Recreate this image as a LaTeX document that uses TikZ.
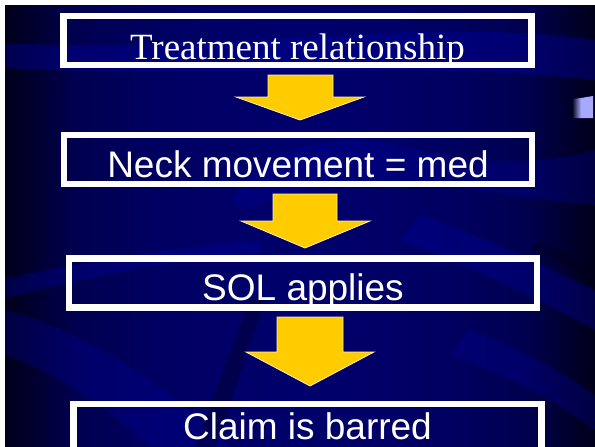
\documentclass[tikz,border=0pt]{standalone}
\usepackage{fontspec}
\setmainfont{Liberation Serif}
\newfontfamily\arialf{Liberation Sans}
\definecolor{bgdark}{HTML}{00001A}
\definecolor{bgmid}{HTML}{00006C}
\definecolor{bgq}{HTML}{000050}
\definecolor{bgr}{HTML}{000062}
\definecolor{bandc}{HTML}{0000A0}
\definecolor{arrowy}{HTML}{FFCC00}
\definecolor{lav}{HTML}{A8A8FF}
\pgfdeclarehorizontalshading{bgshade}{100bp}{color(0bp)=(bgdark); color(25bp)=(bgdark);
  color(31bp)=(bgq); color(38bp)=(bgr); color(50bp)=(bgmid); color(62bp)=(bgr);
  color(69bp)=(bgq); color(75bp)=(bgdark); color(100bp)=(bgdark)}
\tikzset{
  box/.style={draw=white, line width=6.5pt, minimum width=468pt, minimum height=49pt,
    inner sep=0pt},
  boxlbl/.style={anchor=base, inner sep=0pt, text=white, font=\fontsize{37}{40}\selectfont},
  band/.style={fill=bandc, opacity=0.4},
  darkband/.style={fill=bgdark, opacity=0.35},
  blockarrow/.style={fill=arrowy, draw=white!70!arrowy, line width=0.8pt, line join=miter}
}
\begin{document}
\begin{tikzpicture}[x=1pt,y=-1pt]
\useasboundingbox (0,0) rectangle (595,447);
\fill[white] (0,0) rectangle (595,447);
\shade[shading=bgshade] (5,5) rectangle (595,447);
\begin{scope}
\clip (5,5) rectangle (595,447);
% top wave
\fill[band] (5,43) .. controls (200,55) and (420,15) .. (595,40)
  -- (595,80) .. controls (420,60) and (200,78) .. (5,68) -- cycle;
% middle swoosh
\fill[band, opacity=0.3] (230,200) .. controls (260,150) and (330,125) .. (420,150)
  .. controls (500,170) and (560,160) .. (595,150) -- (595,205)
  .. controls (520,200) and (420,175) .. (330,185) .. controls (290,190) and (260,200) .. (250,210) -- cycle;
% left rising band near box 3
\fill[band, opacity=0.35] (5,278) .. controls (60,268) and (150,250) .. (260,240)
  -- (260,252) .. controls (150,262) and (60,285) .. (5,298) -- cycle;
% lower left broad diagonal
\fill[band, opacity=0.3] (5,310) .. controls (80,330) and (160,380) .. (230,447)
  -- (150,447) .. controls (100,400) and (50,370) .. (5,355) -- cycle;
\fill[darkband] (250,300) -- (265,300) -- (215,447) -- (195,447) -- cycle;
% lower right diagonal stripes
\fill[band, opacity=0.35] (420,215) .. controls (480,235) and (540,265) .. (595,290)
  -- (595,330) .. controls (540,300) and (480,270) .. (400,240) -- cycle;
\fill[band, opacity=0.3] (470,330) .. controls (520,350) and (560,370) .. (595,395)
  -- (595,430) .. controls (560,405) and (520,380) .. (450,355) -- cycle;
\fill[darkband] (540,240) -- (595,265) -- (595,280) -- (530,250) -- cycle;
\end{scope}
% bullet fragment at right
\shade[left color=bgdark, right color=lav] (572,99) -- (581,98) -- (581,118) -- (572,118) -- cycle;
\fill[lav] (581,98) -- (593,96) -- (593,118) -- (581,118) -- cycle;
% boxes
\node[box] (b1) at (297.5,40.5) {};
\node[box] (b2) at (298,159.5) {};
\node[box] (b3) at (303,283) {};
\node[box] (b4) at (307.5,428.5) {};
% labels
\node[boxlbl] (t1) at (297.5,59) {Treatment relationship};
\node[boxlbl] (t2) at (298,177) {\arialf Neck movement = med};
\node[boxlbl] (t3) at (303,300) {\arialf SOL applies};
\node[boxlbl, text depth=0pt] (t4) at (307.5,439.5) {\arialf Claim is barred};
% block arrows
\filldraw[blockarrow] (268,75) -- (333,75) -- (333,97) -- (364,97) -- (300,120) -- (236,97) -- (268,97) -- cycle;
\filldraw[blockarrow] (273,194) -- (337,194) -- (337,221) -- (370,221) -- (305,248) -- (241,221) -- (273,221) -- cycle;
\filldraw[blockarrow] (277,317) -- (343,317) -- (343,352) -- (374,352) -- (310,386) -- (246,352) -- (277,352) -- cycle;
\end{tikzpicture}
\end{document}
